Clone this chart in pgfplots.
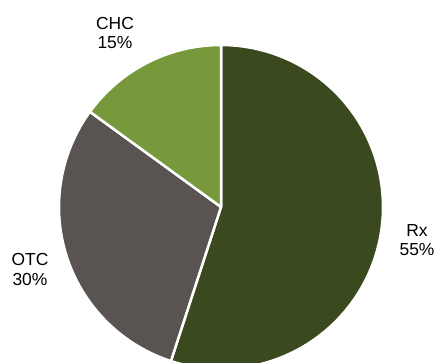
\documentclass[border=0pt]{standalone}
\usepackage{pgfplots}
\pgfplotsset{compat=1.18}
\usepackage{pgfplotstable}
\usepackage{fontspec}
\setmainfont{Liberation Sans}
\definecolor{rxcol}{RGB}{59,73,30}
\definecolor{otccol}{RGB}{89,84,82}
\definecolor{chccol}{RGB}{119,153,59}
\pgfplotstableread{
label value
Rx 55
OTC 30
CHC 15
}\piedata
\pgfplotstablegetelem{0}{value}\of\piedata \let\va\pgfplotsretval
\pgfplotstablegetelem{1}{value}\of\piedata \let\vb\pgfplotsretval
\pgfplotstablegetelem{2}{value}\of\piedata \let\vc\pgfplotsretval
\pgfmathsetmacro\aA{90}
\pgfmathsetmacro\aB{90-3.6*\va}
\pgfmathsetmacro\aC{\aB-3.6*\vb}
\pgfmathsetmacro\aD{\aC-3.6*\vc}
\begin{document}
\begin{tikzpicture}
\begin{axis}[
  scale only axis, width=436bp, height=363bp,
  xmin=0, xmax=436, ymin=0, ymax=363,
  hide axis, clip=true,
]
\path (rel axis cs:0,0) rectangle (rel axis cs:1,1);
\addplot[fill=rxcol, draw=white, line width=2.5bp, line join=round, domain=\aB:\aA, samples=120, variable=\t]
  ({221+162*cos(t)},{156+162*sin(t)}) -- (axis cs:221,156) -- cycle;
\addplot[fill=otccol, draw=white, line width=2.5bp, line join=round, domain=\aC:\aB, samples=80, variable=\t]
  ({221+162*cos(t)},{156+162*sin(t)}) -- (axis cs:221,156) -- cycle;
\addplot[fill=chccol, draw=white, line width=2.5bp, line join=round, domain=\aD:\aC, samples=40, variable=\t]
  ({221+162*cos(t)},{156+162*sin(t)}) -- (axis cs:221,156) -- cycle;
\node[align=center, font=\fontsize{17.5}{19.5}\selectfont, inner sep=0pt] at (axis cs:115,330) {CHC\\15\%};
\node[align=center, font=\fontsize{17.5}{19.5}\selectfont, inner sep=0pt] at (axis cs:417,123) {Rx\\55\%};
\node[align=center, font=\fontsize{17.5}{19.5}\selectfont, inner sep=0pt] at (axis cs:30,93.5) {OTC\\30\%};
\end{axis}
\end{tikzpicture}
\end{document}
